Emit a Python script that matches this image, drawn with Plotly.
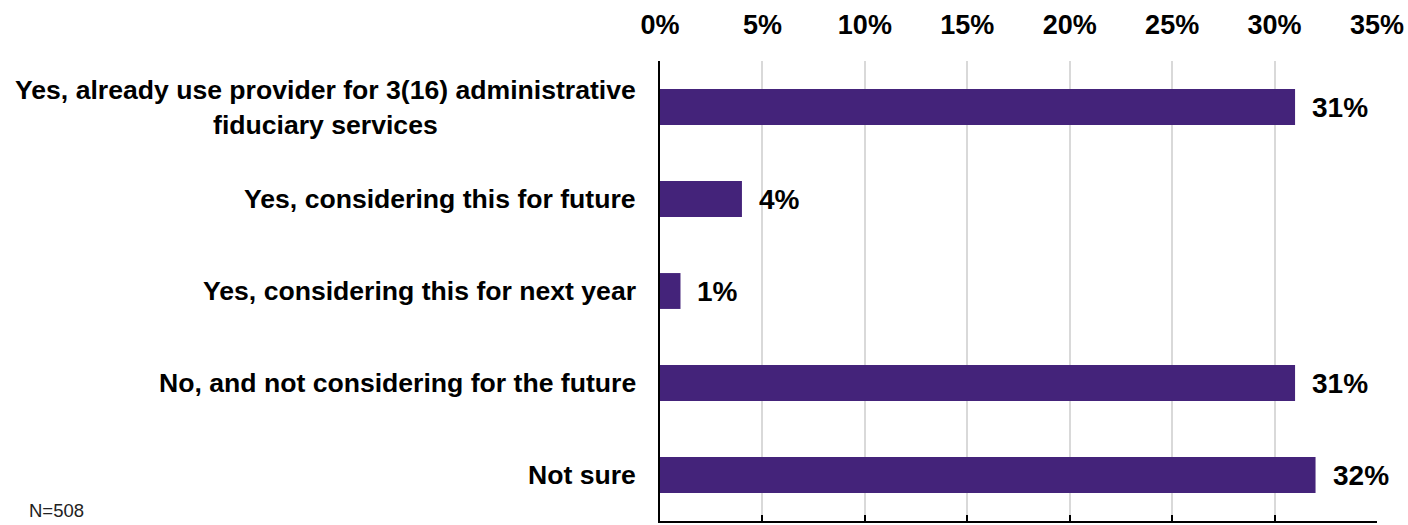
import plotly.graph_objects as go

categories = [
    "Yes, already use provider for 3(16) administrative<br>fiduciary services",
    "Yes, considering this for future",
    "Yes, considering this for next year",
    "No, and not considering for the future",
    "Not sure",
]
values = [31, 4, 1, 31, 32]
tick_values = [0, 5, 10, 15, 20, 25, 30, 35]
tick_labels = [f"{v}%" for v in tick_values]
sample_note = "N=508"

BAR_COLOR = "#44237A"
GRID_COLOR = "#D9D9D9"
BASE_FAMILY = "Liberation Sans, Arial, sans-serif"
LABEL_FONT = dict(family=BASE_FAMILY, size=26.6, color="#000000")

fig = go.Figure()
fig.add_trace(go.Bar(
    x=values,
    y=categories,
    orientation="h",
    marker=dict(color=BAR_COLOR, line=dict(width=0)),
    width=0.39,
    hoverinfo="skip",
))
# invisible trace that carries the bottom axis (ticks only)
fig.add_trace(go.Scatter(x=[0, 35], y=[categories[0], categories[0]], xaxis="x2",
                         mode="markers", marker=dict(opacity=0), hoverinfo="skip", showlegend=False))

annotations = []
# category labels, right-aligned beside the axis, multi-line text centred
for cat in categories:
    annotations.append(dict(
        x=0, xref="paper", y=cat, yref="y", text=f"<b>{cat}</b>",
        xanchor="right", yanchor="middle", xshift=-22, align="center",
        showarrow=False, font=LABEL_FONT,
    ))
# value labels at the end of each bar
for cat, v in zip(categories, values):
    annotations.append(dict(
        x=v, xref="x", y=cat, yref="y", text=f"<b>{v}%</b>",
        xanchor="left", yanchor="middle", xshift=15,
        showarrow=False, font=dict(family=BASE_FAMILY, size=28, color="#000000"),
    ))
# sample size note in the lower-left corner
annotations.append(dict(
    x=(27 - 660) / 717, xref="paper", xanchor="left",
    y=(525 - 4 - 510) / 460, yref="paper", yanchor="middle",
    text=sample_note, showarrow=False,
    font=dict(family=BASE_FAMILY, size=18.5, color="#222222"),
))

fig.update_layout(
    width=1408,
    height=525,
    margin=dict(l=660, r=31, t=61, b=4),
    paper_bgcolor="white",
    plot_bgcolor="white",
    showlegend=False,
    xaxis=dict(
        side="top",
        range=[0, 35],
        tickvals=tick_values,
        ticktext=[f"<b>{t}</b>" for t in tick_labels],
        tickfont=dict(family="Liberation Sans Narrow, Arial Narrow, Liberation Sans, sans-serif", size=27, color="#000000"),
        ticks="",
        ticklabelstandoff=21,
        showgrid=True,
        gridcolor=GRID_COLOR,
        gridwidth=1.5,
        zeroline=False,
        showline=False,
        fixedrange=True,
    ),
    xaxis2=dict(
        overlaying="x",
        side="bottom",
        range=[0, 35],
        tickvals=tick_values,
        showticklabels=False,
        ticks="inside",
        ticklen=6,
        tickcolor="#000000",
        tickwidth=1.5,
        showline=True,
        linecolor="#000000",
        linewidth=1.5,
        showgrid=False,
        zeroline=False,
    ),
    yaxis=dict(
        autorange="reversed",
        showticklabels=False,
        ticks="",
        showline=True,
        linecolor="#000000",
        linewidth=1.5,
        showgrid=False,
        zeroline=False,
    ),
    annotations=annotations,
)

fig.write_html("out.html")
